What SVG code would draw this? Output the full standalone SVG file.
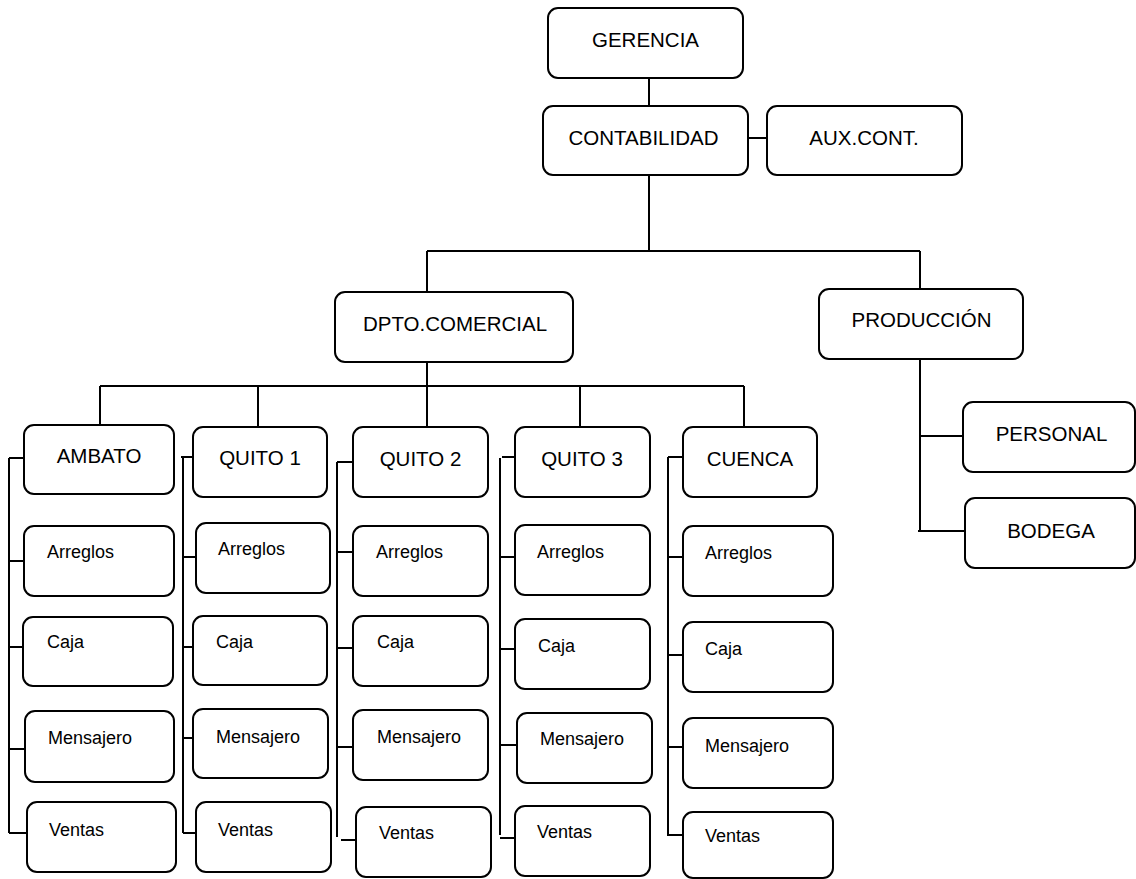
<svg xmlns="http://www.w3.org/2000/svg" width="1136" height="879" viewBox="0 0 1136 879">
<style>
.box{fill:#fff;stroke:#000;stroke-width:2}
.ln{stroke:#000;stroke-width:2;fill:none}
.big{font-family:"Liberation Sans",Arial,sans-serif;font-size:20.5px;fill:#000;text-anchor:middle}
.sm{font-family:"Liberation Sans",Arial,sans-serif;font-size:18px;fill:#000}
</style>
<rect width="1136" height="879" fill="#fff"/>
<g id="connectors" class="ln">
<path d="M649 78V106M748 138H767M649 175V251M427 251H920M427 251V292M920 251V289"/>
<path d="M427 362V386M100 386H744M100 386V425M258 386V427M427 386V427M580 386V427M744 386V427"/>
<path d="M920 359V531M920 436H963M918 531H965"/>
<path d="M9 458V833M9 458H24M9 561H24M9 647H23M9 749H25M9 833H27"/>
<path d="M183 457V833M181 457H193M183 557H196M183 647H193M183 738H193M183 833H196"/>
<path d="M337 462V837M337 462H353M337 552H353M337 648H353M337 747H353M341 840H356"/>
<path d="M500 458V835M502 457H515M500 557H515M500 649H515M500 745H517M500 838H515"/>
<path d="M668 457V836M668 457H683M668 557H683M668 655H683M668 747H683M668 835H683"/>
</g>
<g id="gerencia"><rect class="box" x="548" y="8" width="195" height="70" rx="10"/><text class="big" x="645.5" y="47">GERENCIA</text></g>
<g id="contabilidad"><rect class="box" x="543" y="106" width="205" height="69" rx="10"/><text class="big" x="643.5" y="145">CONTABILIDAD</text></g>
<g id="auxcont"><rect class="box" x="767" y="106" width="195" height="69" rx="10"/><text class="big" x="864" y="145">AUX.CONT.</text></g>
<g id="dpto"><rect class="box" x="335" y="292" width="238" height="70" rx="10"/><text class="big" x="455" y="331">DPTO.COMERCIAL</text></g>
<g id="produccion"><rect class="box" x="819" y="289" width="204" height="70" rx="10"/><text class="big" x="921.5" y="327">PRODUCCIÓN</text></g>
<g id="personal"><rect class="box" x="963" y="402" width="172" height="70" rx="10"/><text class="big" x="1051.5" y="441">PERSONAL</text></g>
<g id="bodega"><rect class="box" x="965" y="498" width="170" height="70" rx="10"/><text class="big" x="1051" y="538">BODEGA</text></g>

<g id="ambato"><rect class="box" x="24" y="425" width="150" height="69" rx="10"/><text class="big" x="99" y="463">AMBATO</text></g>
<g id="ambato-arreglos"><rect class="box" x="24" y="526" width="150" height="70" rx="10"/><text class="sm" x="47" y="558">Arreglos</text></g>
<g id="ambato-caja"><rect class="box" x="23" y="617" width="150" height="69" rx="10"/><text class="sm" x="47" y="648">Caja</text></g>
<g id="ambato-mensajero"><rect class="box" x="25" y="711" width="149" height="71" rx="10"/><text class="sm" x="48" y="744">Mensajero</text></g>
<g id="ambato-ventas"><rect class="box" x="27" y="802" width="149" height="70" rx="10"/><text class="sm" x="49" y="836">Ventas</text></g>

<g id="quito1"><rect class="box" x="193" y="427" width="134" height="70" rx="10"/><text class="big" x="260" y="465">QUITO 1</text></g>
<g id="quito1-arreglos"><rect class="box" x="196" y="523" width="134" height="70" rx="10"/><text class="sm" x="218" y="555">Arreglos</text></g>
<g id="quito1-caja"><rect class="box" x="193" y="616" width="134" height="69" rx="10"/><text class="sm" x="216" y="648">Caja</text></g>
<g id="quito1-mensajero"><rect class="box" x="193" y="709" width="135" height="69" rx="10"/><text class="sm" x="216" y="743">Mensajero</text></g>
<g id="quito1-ventas"><rect class="box" x="196" y="802" width="135" height="70" rx="10"/><text class="sm" x="218" y="836">Ventas</text></g>

<g id="quito2"><rect class="box" x="353" y="427" width="135" height="70" rx="10"/><text class="big" x="420.5" y="466">QUITO 2</text></g>
<g id="quito2-arreglos"><rect class="box" x="353" y="526" width="135" height="70" rx="10"/><text class="sm" x="376" y="558">Arreglos</text></g>
<g id="quito2-caja"><rect class="box" x="353" y="616" width="135" height="70" rx="10"/><text class="sm" x="377" y="648">Caja</text></g>
<g id="quito2-mensajero"><rect class="box" x="353" y="710" width="135" height="70" rx="10"/><text class="sm" x="377" y="743">Mensajero</text></g>
<g id="quito2-ventas"><rect class="box" x="356" y="807" width="135" height="70" rx="10"/><text class="sm" x="379" y="839">Ventas</text></g>

<g id="quito3"><rect class="box" x="515" y="427" width="135" height="70" rx="10"/><text class="big" x="582" y="466">QUITO 3</text></g>
<g id="quito3-arreglos"><rect class="box" x="515" y="525" width="135" height="70" rx="10"/><text class="sm" x="537" y="558">Arreglos</text></g>
<g id="quito3-caja"><rect class="box" x="515" y="619" width="135" height="70" rx="10"/><text class="sm" x="538" y="652">Caja</text></g>
<g id="quito3-mensajero"><rect class="box" x="517" y="713" width="135" height="70" rx="10"/><text class="sm" x="540" y="745">Mensajero</text></g>
<g id="quito3-ventas"><rect class="box" x="515" y="806" width="135" height="70" rx="10"/><text class="sm" x="537" y="838">Ventas</text></g>

<g id="cuenca"><rect class="box" x="683" y="427" width="134" height="70" rx="10"/><text class="big" x="750" y="466">CUENCA</text></g>
<g id="cuenca-arreglos"><rect class="box" x="683" y="526" width="150" height="70" rx="10"/><text class="sm" x="705" y="559">Arreglos</text></g>
<g id="cuenca-caja"><rect class="box" x="683" y="622" width="150" height="70" rx="10"/><text class="sm" x="705" y="655">Caja</text></g>
<g id="cuenca-mensajero"><rect class="box" x="683" y="718" width="150" height="70" rx="10"/><text class="sm" x="705" y="752">Mensajero</text></g>
<g id="cuenca-ventas"><rect class="box" x="683" y="812" width="150" height="66" rx="10"/><text class="sm" x="705" y="842">Ventas</text></g>
</svg>
